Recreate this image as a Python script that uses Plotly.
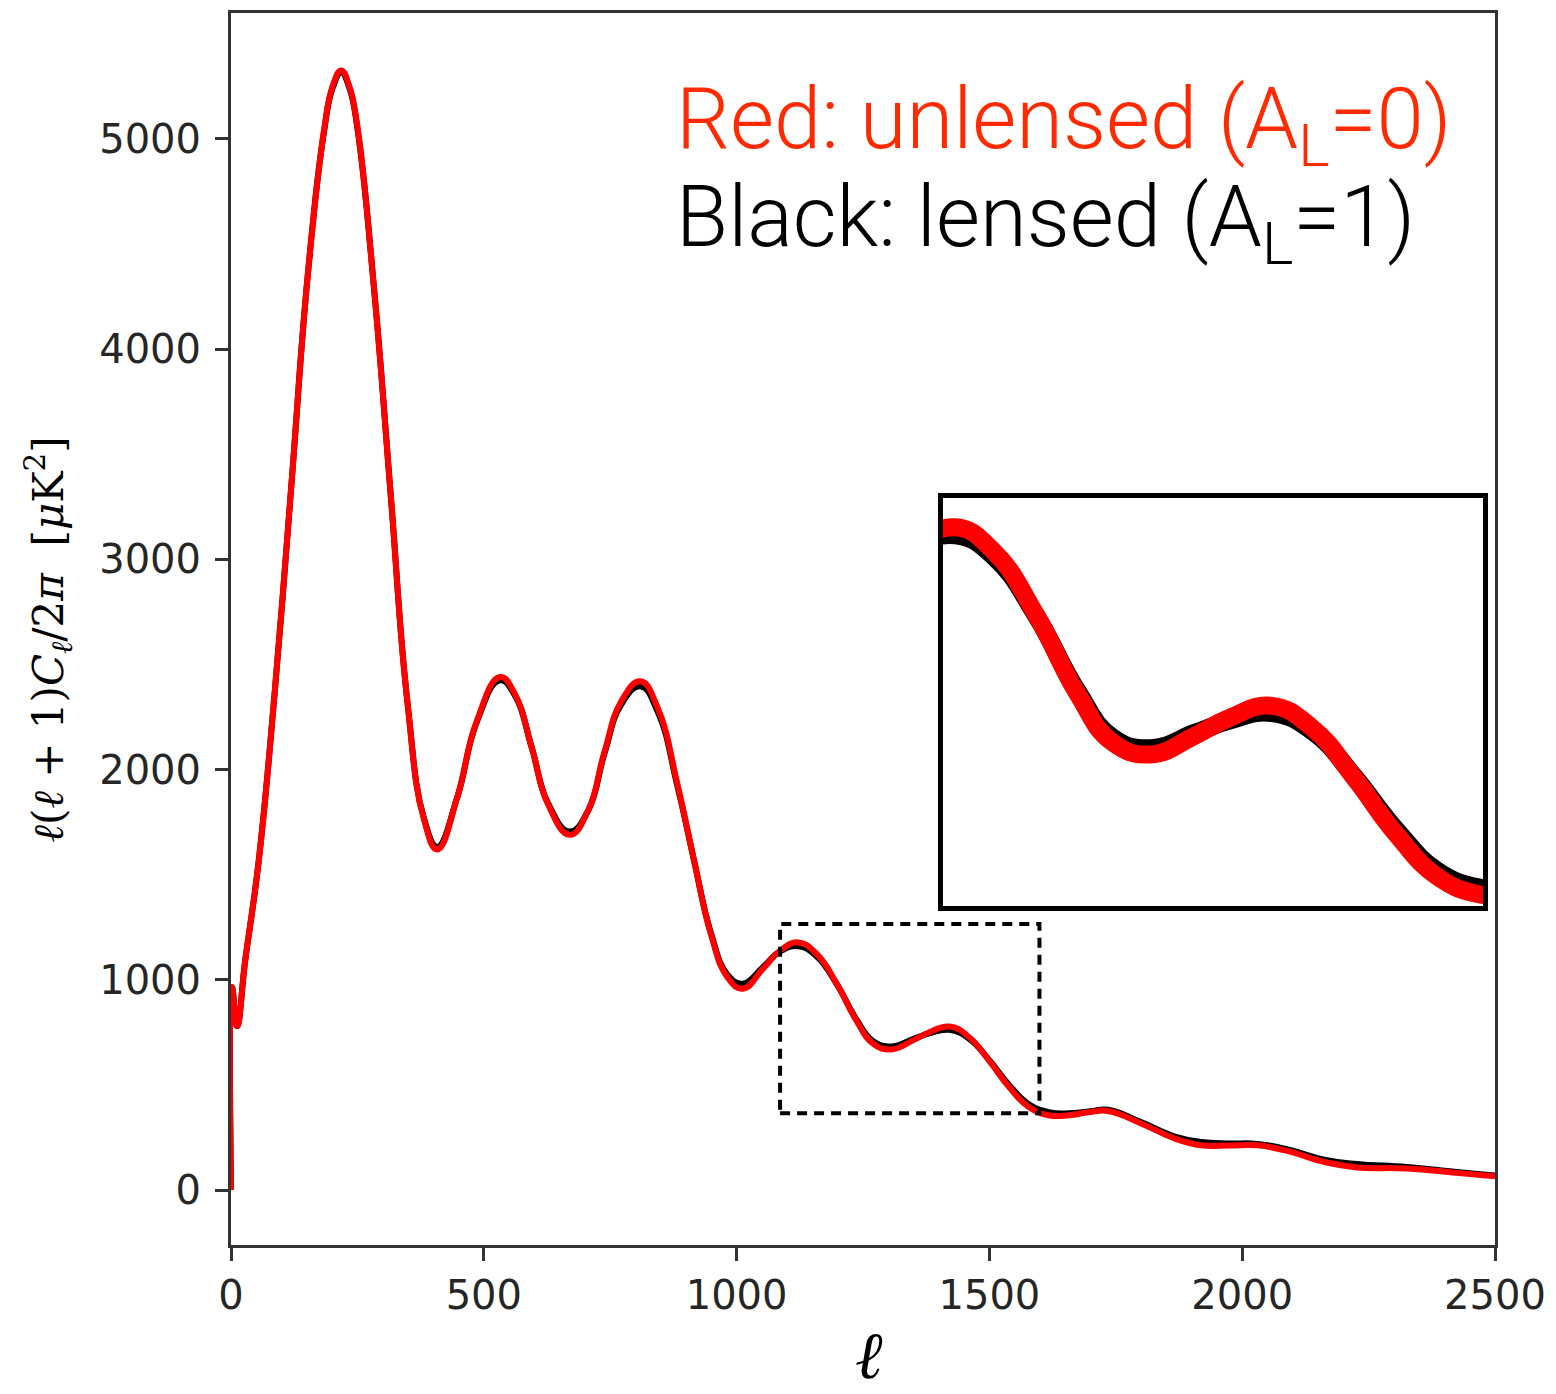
import plotly.graph_objects as go

# multipole ell
ell = [0, 2, 12, 28, 54, 86, 119, 152, 185, 201, 218, 234, 250, 283, 316, 349, 382, 408, 447, 486,
       532, 562, 595, 627, 670, 706, 739, 772, 810, 844, 883, 916, 949, 982, 1012, 1052,
       1086, 1122, 1158, 1198, 1237, 1270, 1306, 1349, 1381, 1421, 1460, 1499, 1539, 1578,
       1617, 1657, 1700, 1735, 1801, 1867, 1919, 1975, 2030, 2096, 2162, 2227, 2325, 2424, 2500]
# unlensed (A_L = 0)
dl_unlensed = [0, 965, 780, 1090, 1548, 2355, 3340, 4355, 5057, 5250, 5325, 5250, 5057, 4285, 3303,
               2320, 1760, 1620, 1864, 2230, 2440, 2357, 2103, 1835, 1690, 1803, 2087, 2325, 2420,
               2293, 1930, 1566, 1219, 1012, 958, 1052, 1139, 1178, 1124, 982, 806, 697, 669, 712,
               751, 778, 727, 617, 490, 395, 356, 356, 372, 376, 316, 245, 213, 212, 213, 182, 134,
               108, 103, 82, 66]
# lensed (A_L = 1)
dl_lensed = [0, 965, 780, 1090, 1548, 2355, 3340, 4355, 5050, 5242, 5315, 5242, 5050, 4285, 3303,
             2320, 1765, 1632, 1864, 2225, 2425, 2350, 2103, 1840, 1705, 1803, 2080, 2310, 2396,
             2275, 1920, 1566, 1225, 1025, 982, 1060, 1135, 1160, 1112, 980, 812, 708, 683, 718,
             745, 762, 720, 620, 500, 408, 371, 365, 375, 382, 322, 255, 229, 222, 220, 190, 145,
             124, 110, 86, 70]

x_ticks = [0, 500, 1000, 1500, 2000, 2500]
y_ticks = [0, 1000, 2000, 3000, 4000, 5000]
zoom_box_x = [1086, 1599]
zoom_box_y = [365, 1266]
inset_x_range = [1110, 1621]
inset_y_range = [330, 1244]

RED = "#ff0000"
fig = go.Figure()
for xa, ya, w in [("x", "y", 6), ("x2", "y2", 18)]:
    fig.add_trace(go.Scatter(x=ell, y=dl_lensed, mode="lines", xaxis=xa, yaxis=ya,
                             line=dict(color="black", width=w, shape="spline", smoothing=1.3),
                             showlegend=False, hoverinfo="skip"))
    fig.add_trace(go.Scatter(x=ell, y=dl_unlensed, mode="lines", xaxis=xa, yaxis=ya,
                             line=dict(color=RED, width=w, shape="spline", smoothing=1.3),
                             showlegend=False, hoverinfo="skip"))

axcol = "#333333"
tickfont = dict(family="DejaVu Sans", size=40, color="#262626")
fig.update_layout(
    width=1556, height=1394,
    margin=dict(l=231, r=54, t=10, b=149),
    paper_bgcolor="white", plot_bgcolor="white",
    xaxis=dict(range=[0, 2500], tickvals=x_ticks, ticks="outside", ticklen=13, tickwidth=3,
               tickcolor=axcol, showline=True, linecolor=axcol, linewidth=3, mirror=True,
               showgrid=False, zeroline=False, tickfont=tickfont, ticklabelstandoff=0),
    yaxis=dict(range=[-261, 5598], tickvals=y_ticks, ticks="outside", ticklen=13, tickwidth=3,
               tickcolor=axcol, showline=True, linecolor=axcol, linewidth=3, mirror=True,
               showgrid=False, zeroline=False, tickfont=tickfont, ticklabelstandoff=6),
    xaxis2=dict(domain=[0.5633, 0.9906], anchor="y2", range=inset_x_range, showticklabels=False,
                ticks="", showgrid=False, zeroline=False, showline=True, linecolor="black",
                linewidth=5, mirror=True),
    yaxis2=dict(domain=[0.2753, 0.6065], anchor="x2", range=inset_y_range, showticklabels=False,
                ticks="", showgrid=False, zeroline=False, showline=True, linecolor="black",
                linewidth=5, mirror=True),
)

fig.add_shape(type="rect", xref="x", yref="y", x0=zoom_box_x[0], x1=zoom_box_x[1],
              y0=zoom_box_y[0], y1=zoom_box_y[1],
              line=dict(color="black", width=4, dash="10px,7px"))

labfont = "Roboto"
fig.add_annotation(xref="paper", yref="paper", x=0.3501, y=0.909, xanchor="left", yanchor="middle",
                   text="Red: unlensed (A<sub>L</sub>=0)", showarrow=False,
                   font=dict(family=labfont, size=85, color="#ff2a00", weight=300))
fig.add_annotation(xref="paper", yref="paper", x=0.3501, y=0.8296, xanchor="left", yanchor="middle",
                   text="Black: lensed (A<sub>L</sub>=1)", showarrow=False,
                   font=dict(family=labfont, size=85, color="black", weight=300))

fig.add_annotation(xref="paper", yref="paper", x=-0.144, y=0.4915, xanchor="center", yanchor="middle",
                   textangle=-90, showarrow=False,
                   text="<i>ℓ</i>(<i>ℓ</i> + 1)<i>C<sub>ℓ</sub></i>/2<i>π</i>  [<i>μ</i>K<sup>2</sup>]",
                   font=dict(family="DejaVu Serif", size=42, color="black"))
fig.add_annotation(xref="paper", yref="paper", x=0.505, y=-0.090, xanchor="center", yanchor="middle",
                   showarrow=False, text="<i>ℓ</i>",
                   font=dict(family="DejaVu Serif", size=66, color="black"))

fig.write_html("out.html")
